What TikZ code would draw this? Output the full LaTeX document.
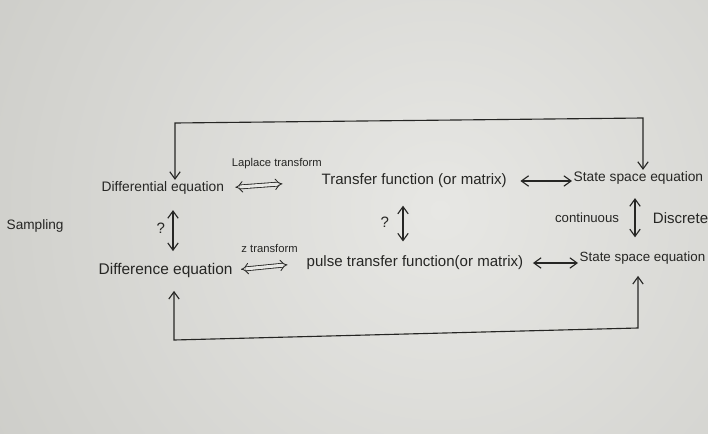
\documentclass[tikz,border=0pt]{standalone}
\usepackage{fontspec}
\setmainfont{Liberation Sans}
\usepackage{xcolor}
\definecolor{ink}{HTML}{262624}
\definecolor{paperhi}{HTML}{E7E7E4}
\definecolor{paperlo}{HTML}{BFBFBA}
\usetikzlibrary{arrows.meta,positioning}
\tikzset{tr/.style={{Straight Barb[length=1.8mm,width=2.6mm]}-{Straight Barb[length=1.8mm,width=2.6mm]},draw=ink,line width=.8pt},dbl/.style={{Implies}-{Implies},draw=ink,double=paperhi,double distance=2.2pt,line width=.6pt}}

\begin{document}
\begin{tikzpicture}[x=.025cm,y=-.025cm,txt/.style={text=ink,inner sep=1pt,anchor=west,font=\fontsize{10.7}{12}\selectfont},lbl/.style={text=ink,inner sep=1pt,font=\fontsize{8}{9}\selectfont}]
\begin{scope}
\clip (0,0) rectangle (708,433);
\shade[inner color=paperhi,outer color=paperlo] (440,210) circle (800);
\end{scope}
\useasboundingbox (0,0) rectangle (708,433);
\node[txt,font=\fontsize{9.8}{11}\selectfont] (de) at (100,188) {Differential equation};
\node[txt] (tf) at (320,181) {Transfer function (or matrix)};
\node[txt,font=\fontsize{9.8}{11}\selectfont] (ssc) at (572,178) {State space equation};
\node[txt,font=\fontsize{11}{12}\selectfont] (fe) at (97,270) {Difference equation};
\node[txt] (ptf) at (305,263) {pulse transfer function(or matrix)};
\node[txt,font=\fontsize{9.5}{11}\selectfont] (ssd) at (578,258) {State space equation};
\node[txt,font=\fontsize{9.7}{11}\selectfont] (smp) at (5,226) {Sampling};
\coordinate (lt) at (175,123);
\coordinate (rt) at (643,118);
\coordinate (lb) at (174,340);
\coordinate (rb) at (638,328);
\coordinate (qa) at (173,228);
\coordinate (qb) at (403,222);
\coordinate (qc) at (635,215);
\draw[tr] (de.north -| lt)--(lt)--(rt)--(ssc.north -| rt);
\draw[tr,shorten <=3mm,shorten >=2.5mm] (fe.south -| lb)--(lb)--(rb)--(ssd.south -| rb);
\draw[dbl,shorten <=2.4mm,shorten >=9.4mm] (de.east)--node[lbl,above=3.4mm,xshift=1mm]{Laplace transform}(tf.west);
\draw[dbl,shorten <=1.7mm,shorten >=4.4mm] (fe.east)--node[lbl,above=3mm]{z transform}(ptf.west);
\draw[tr,shorten <=3mm] (tf.east)--(tf.east -| ssc.west);
\draw[tr,shorten <=2mm] (ptf.east)--(ptf.east -| ssd.west);
\draw[tr,shorten <=3.5mm,shorten >=2.5mm] (de.south -| qa)--node[txt,anchor=east,left=1.5mm]{?}(fe.north -| qa);
\draw[tr,shorten <=4mm,shorten >=3.2mm] (tf.south -| qb)--node[txt,anchor=east,left=3mm]{?}(ptf.north -| qb);
\draw[tr,shorten <=3mm,shorten >=3.2mm] (ssc.south -| qc)--node[txt,left=3.5mm,font=\fontsize{9.4}{11}\selectfont]{continuous}node[txt,right=4mm]{Discrete}(ssd.north -| qc);
\end{tikzpicture}
\end{document}
